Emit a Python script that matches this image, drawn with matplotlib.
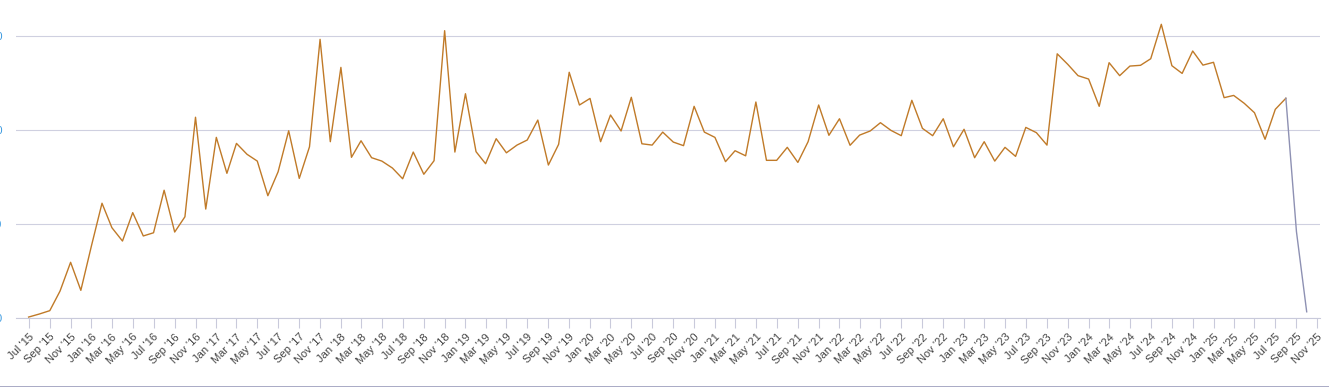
import pandas as pd
import matplotlib
matplotlib.use("Agg")
import matplotlib.pyplot as plt
import matplotlib.dates as mdates
from matplotlib.lines import Line2D

plt.rcParams["font.family"] = ["Liberation Sans", "DejaVu Sans"]

# Monthly values, Jul '15 .. Oct '25 (last two months are the incomplete segment)
months = pd.date_range("2015-07-01", periods=124, freq="MS")
values = [
    0.5, 2.1, 3.9, 14.3, 29.6, 14.7, 38.3, 61.0, 48.0, 40.9, 56.0, 43.6,
    45.3, 67.9, 45.7, 53.8, 106.7, 57.9, 96.0, 76.9, 92.8, 87.0, 83.4, 65.0,
    77.7, 99.5, 74.2, 91.0, 148.1, 93.7, 133.2, 85.4, 94.2, 85.2, 83.4, 79.7,
    74.0, 88.2, 76.4, 83.6, 152.7, 88.2, 119.2, 88.4, 82.0, 95.3, 87.8, 91.9,
    94.6, 105.2, 81.3, 92.3, 130.6, 113.2, 116.7, 93.7, 107.9, 99.4, 117.3, 92.6,
    91.9, 98.8, 93.5, 91.6, 112.5, 98.8, 96.0, 83.1, 88.9, 86.2, 114.8, 83.8,
    83.8, 90.7, 82.7, 93.7, 113.2, 97.1, 105.9, 91.8, 97.2, 99.4, 103.8, 99.7,
    96.9, 115.7, 100.8, 96.9, 105.9, 91.0, 100.3, 85.2, 93.7, 83.4, 90.7, 85.9,
    101.3, 98.5, 91.9, 140.4, 134.8, 128.8, 127.0, 112.5, 135.7, 128.8, 133.9, 134.3,
    137.8, 156.1, 134.1, 130.0, 141.9, 134.4, 135.9, 117.1, 118.3, 114.1, 109.1, 95.0,
    110.9, 116.8, 45.9, 3.3,
]
n_complete = 122  # points drawn in orange; the rest is the grey tail
y_ticks = [0, 50, 100, 150]
y_labels = ["0", "50", "100", "150"]

fig = plt.figure(figsize=(13.29, 3.87), dpi=100)
ax = fig.add_axes([16 / 1329, 69 / 387, 1304 / 1329, 308 / 387])

ax.plot(months[:n_complete], values[:n_complete], color="#c07a28", lw=1.0)
ax.plot(months[n_complete - 1:], values[n_complete - 1:], color="#8e91b3", lw=1.0)

ax.set_ylim(0, 163.7)
ax.set_xlim(months[0] - pd.Timedelta(days=37), pd.Timestamp("2025-11-09"))

ticks = pd.date_range("2015-07-01", "2025-11-01", freq="2MS")
ax.set_xticks(ticks)
ax.set_xticklabels([t.strftime("%b '%y") for t in ticks], rotation=45,
                   ha="right", rotation_mode="anchor", fontsize=8, color="#444444")
ax.tick_params(axis="x", length=7, width=0.8, color="#c9cadb", pad=3)

ax.set_yticks(y_ticks)
ax.set_yticklabels(y_labels, fontsize=8, color="#3d9be0")
ax.tick_params(axis="y", length=0, pad=10)
ax.yaxis.grid(True, color="#cfd0e0", lw=0.8)
ax.set_axisbelow(True)

for s in ["top", "right", "left"]:
    ax.spines[s].set_visible(False)
ax.spines["bottom"].set_color("#c9cadb")
ax.spines["bottom"].set_linewidth(0.8)

# container border at the bottom
fig.add_artist(Line2D([0, 1], [0.5 / 387, 0.5 / 387], color="#9b9cbb", lw=1.2,
                      transform=fig.transFigure))

fig.savefig("out.png", dpi=100)
